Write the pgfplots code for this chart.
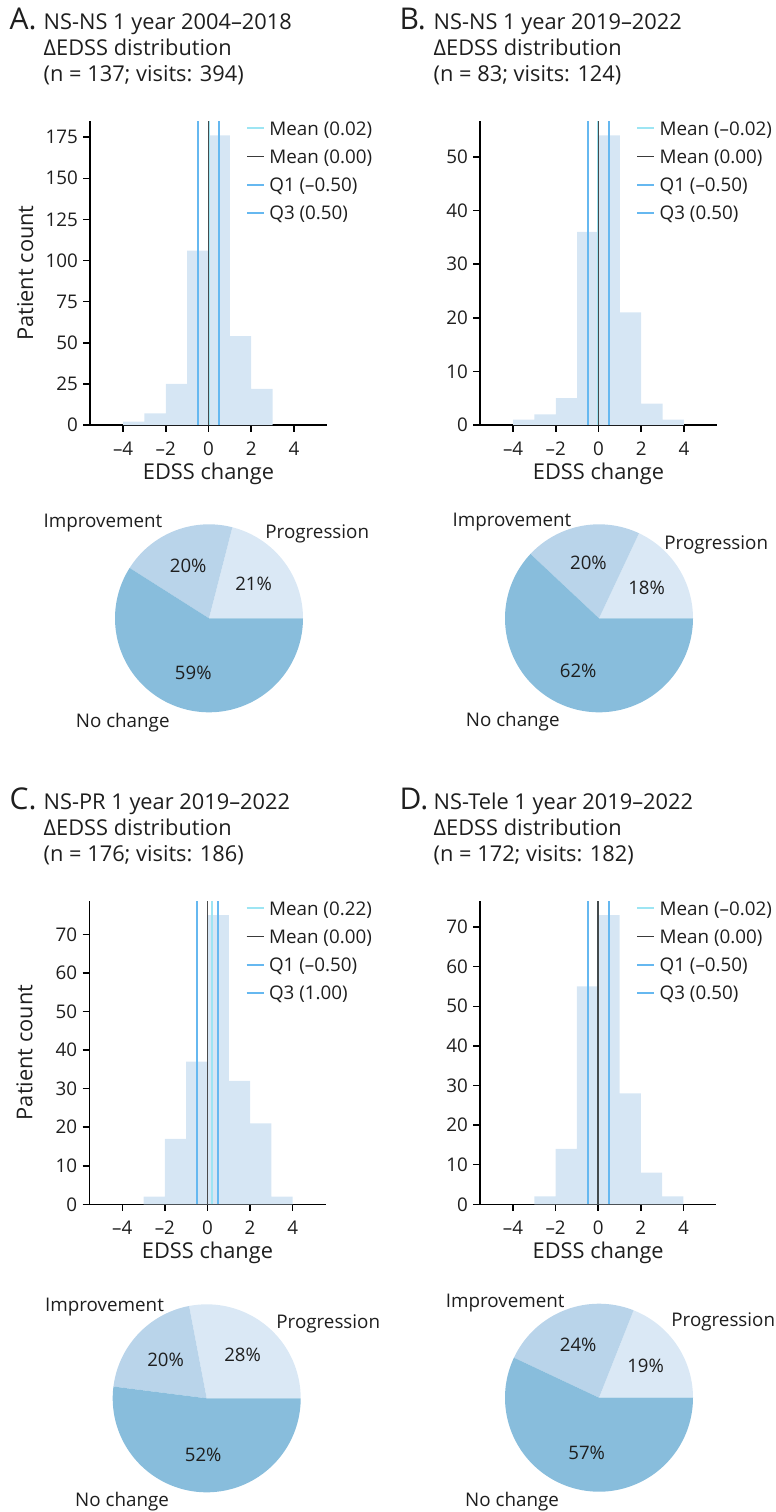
\documentclass[border=0pt]{standalone}
\usepackage{fontspec}
\setmainfont{Open Sans}
\usepackage{pgfplots}
\pgfplotsset{compat=1.18}
\definecolor{histc}{HTML}{D6E6F4}
\definecolor{meanc}{HTML}{9DE5F3}
\definecolor{qc}{HTML}{66B8F0}
\definecolor{blk}{HTML}{3A3A3A}
\definecolor{progc}{HTML}{DAE8F5}
\definecolor{imprc}{HTML}{B9D4EA}
\definecolor{noc}{HTML}{88BDDC}
\definecolor{txt}{HTML}{1E1E1E}
\newcommand{\tkf}{\fontsize{9.4}{11}\selectfont}
\newcommand{\xlab}[5]{\node[anchor=base, font=\tkf, text=txt, inner sep=0pt] at ({(#1+(#4+5.55)/11.1*#2)*0.5pt},{-(#3+30)*0.5pt}) {#5};}
\newcommand{\xlabs}[3]{\xlab{#1}{#2}{#3}{-4}{–4}\xlab{#1}{#2}{#3}{-2}{–2}\xlab{#1}{#2}{#3}{0}{0}\xlab{#1}{#2}{#3}{2}{2}\xlab{#1}{#2}{#3}{4}{4}}
% \ylab{axis left px}{axis bottom px}{axis height px}{ymax}{value}
\newcommand{\ylab}[5]{\node[anchor=east, font=\tkf, text=txt, inner sep=0pt] at ({(#1-11.7)*0.5pt},{-(#2-#5/#4*#3)*0.5pt}) {#5};}
% legend entry: #1 line-start x px, #2 row line y px, #3 style, #4 text
\newcommand{\lent}[4]{%
 \draw[#3] ({#1*0.5pt},{-(#2)*0.5pt}) -- ({(#1+17)*0.5pt},{-(#2)*0.5pt});
 \node[anchor=base west, font=\tkf, text=txt, inner sep=0pt] at ({(#1+22)*0.5pt},{-(#2+6.7)*0.5pt}) {#4};}
\newcommand{\legendblock}[5]{%
 \lent{#1}{#2}{meanc, line width=1pt}{#3}
 \lent{#1}{#2+28.3}{blk, line width=0.75pt}{Mean (0.00)}
 \lent{#1}{#2+56.6}{qc, line width=1pt}{#4}
 \lent{#1}{#2+84.9}{qc, line width=1pt}{#5}}
\pgfplotsset{
 hist/.style={
  scale only axis, width=118.5pt, height=152pt, anchor=south west,
  axis x line*=bottom, axis y line*=left,
  axis line style={line width=0.75pt, -, black},
  tick style={line width=0.75pt, black},
  tick align=outside, major tick length=3.3pt,
  xmin=-5.55, xmax=5.55, ymin=0,
  xtick={-4,-2,0,2,4}, xticklabels={}, yticklabels={},
  xlabel={EDSS change},
  xlabel style={at={(axis description cs:0.5,-0.1776)}, anchor=base, font=\fontsize{10.9}{13}\selectfont, text=txt},
  ylabel style={at={(axis description cs:-0.2405,0.5)}, anchor=base, font=\fontsize{10.9}{13}\selectfont, text=txt},
  clip=false,
 },
 pie/.style={
  scale only axis, width=94pt, height=94pt, anchor=center,
  xmin=-1, xmax=1, ymin=-1, ymax=1, hide axis, clip=false,
 },
}
\newcommand{\pieaxis}[4]{%
 \pgfmathsetmacro\aA{3.6*#3}%
 \pgfmathsetmacro\aB{3.6*(#3+#4)}%
 \pgfmathsetmacro\mA{\aA/2}%
 \pgfmathsetmacro\mB{(\aA+\aB)/2}%
 \pgfmathsetmacro\mC{(\aB+360)/2}%
 \pgfmathtruncatemacro\pC{100-#3-#4}%
 \begin{axis}[pie, at={(#1*0.5pt,-#2*0.5pt)}]
  \addplot[fill=progc, draw=none, domain=0:\aA, samples=60] ({cos(x)},{sin(x)}) -- (axis cs:0,0) -- cycle;
  \addplot[fill=imprc, draw=none, domain=\aA:\aB, samples=60] ({cos(x)},{sin(x)}) -- (axis cs:0,0) -- cycle;
  \addplot[fill=noc, draw=none, domain=\aB:360, samples=120] ({cos(x)},{sin(x)}) -- (axis cs:0,0) -- cycle;
 \end{axis}
 \node[font=\fontsize{9.3}{11}\selectfont, text=txt, inner sep=0pt] at ({#1*0.5pt+28.2pt*cos(\mA)},{-#2*0.5pt+28.2pt*sin(\mA)}) {#3\%};
 \node[font=\fontsize{9.3}{11}\selectfont, text=txt, inner sep=0pt] at ({#1*0.5pt+28.2pt*cos(\mB)},{-#2*0.5pt+28.2pt*sin(\mB)}) {#4\%};
 \node[font=\fontsize{9.3}{11}\selectfont, text=txt, inner sep=0pt] at ({#1*0.5pt+28.2pt*cos(\mC)},{-#2*0.5pt+28.2pt*sin(\mC)}) {\pC\%};}
\newcommand{\pielabels}[6]{%
 \node[anchor=base east, font=\fontsize{9.4}{11}\selectfont, text=txt, inner sep=0pt] at (#1*0.5pt,-#2*0.5pt-3.4pt) {Improvement};
 \node[anchor=base west, font=\fontsize{9.4}{11}\selectfont, text=txt, inner sep=0pt] at (#3*0.5pt,-#4*0.5pt-3.4pt) {Progression};
 \node[anchor=base east, font=\fontsize{9.4}{11}\selectfont, text=txt, inner sep=0pt] at (#5*0.5pt,-#6*0.5pt-3.4pt) {No change};}
\newcommand{\paneltitle}[6]{%
 \node[anchor=base west, font=\fontsize{15}{17}\selectfont, text=txt, inner sep=0pt] at (#1*0.5pt,-#2*0.5pt) {#3};
 \node[anchor=base west, font=\fontsize{10.9}{13}\selectfont, text=txt, inner sep=0pt] at (#1*0.5pt+17pt,-#2*0.5pt) {#4};
 \node[anchor=base west, font=\fontsize{10.9}{13}\selectfont, text=txt, inner sep=0pt] at (#1*0.5pt+17pt,-#2*0.5pt-13pt) {#5};
 \node[anchor=base west, font=\fontsize{10.9}{13}\selectfont, text=txt, inner sep=0pt] at (#1*0.5pt+17pt,-#2*0.5pt-26.2pt) {#6};}
\begin{document}
\begin{tikzpicture}
\useasboundingbox (0pt,0pt) rectangle (388pt,-756pt);
\paneltitle{9.3}{29.3}{A.}{NS-NS 1 year 2004–2018}{ΔEDSS distribution}{(n = 137; visits: 394)}
\paneltitle{399.3}{29.3}{B.}{NS-NS 1 year 2019–2022}{ΔEDSS distribution}{(n = 83; visits: 124)}
\paneltitle{9.3}{809.5}{C.}{NS-PR 1 year 2019–2022}{ΔEDSS distribution}{(n = 176; visits: 186)}
\paneltitle{399.3}{809.5}{D.}{NS-Tele 1 year 2019–2022}{ΔEDSS distribution}{(n = 172; visits: 182)}
% ---------- A histogram
\begin{axis}[hist, at={(90*0.5pt,-425*0.5pt)}, ymax=184.8, ytick={0,25,...,175}, ylabel={Patient count}]
 \addplot[ybar, bar width=1, bar shift=0pt, fill=histc, draw=none] coordinates {(-3.5,2) (-2.5,7) (-1.5,25) (-0.5,106) (0.5,176) (1.5,54) (2.5,22)};
 \addplot[meanc, line width=1pt] coordinates {(0.02,0) (0.02,184.8)};
 \addplot[blk, line width=0.75pt, opacity=0.9] coordinates {(0,0) (0,184.8)};
 \addplot[qc, line width=1pt] coordinates {(-0.5,0) (-0.5,184.8)};
 \addplot[qc, line width=1pt] coordinates {(0.5,0) (0.5,184.8)};
\end{axis}
\xlabs{90}{237}{425}
\ylab{90}{425}{304}{184.8}{0}\ylab{90}{425}{304}{184.8}{25}\ylab{90}{425}{304}{184.8}{50}\ylab{90}{425}{304}{184.8}{75}
\ylab{90}{425}{304}{184.8}{100}\ylab{90}{425}{304}{184.8}{125}\ylab{90}{425}{304}{184.8}{150}\ylab{90}{425}{304}{184.8}{175}
\legendblock{247}{128.3}{Mean (0.02)}{Q1 (–0.50)}{Q3 (0.50)}
% ---------- B histogram
\begin{axis}[hist, at={(480*0.5pt,-425*0.5pt)}, ymax=56.7, ytick={0,10,...,50}]
 \addplot[ybar, bar width=1, bar shift=0pt, fill=histc, draw=none] coordinates {(-3.5,1) (-2.5,2) (-1.5,5) (-0.5,36) (0.5,54) (1.5,21) (2.5,4) (3.5,1)};
 \addplot[meanc, line width=1pt] coordinates {(-0.02,0) (-0.02,56.7)};
 \addplot[blk, line width=0.75pt, opacity=0.9] coordinates {(0,0) (0,56.7)};
 \addplot[qc, line width=1pt] coordinates {(-0.5,0) (-0.5,56.7)};
 \addplot[qc, line width=1pt] coordinates {(0.5,0) (0.5,56.7)};
\end{axis}
\xlabs{480}{237}{425}
\ylab{480}{425}{304}{56.7}{0}\ylab{480}{425}{304}{56.7}{10}\ylab{480}{425}{304}{56.7}{20}
\ylab{480}{425}{304}{56.7}{30}\ylab{480}{425}{304}{56.7}{40}\ylab{480}{425}{304}{56.7}{50}
\legendblock{637.3}{128.3}{Mean (–0.02)}{Q1 (–0.50)}{Q3 (0.50)}
% ---------- C histogram
\begin{axis}[hist, at={(89.3*0.5pt,-1204.3*0.5pt)}, width=118.2pt, height=151.8pt, ymax=78.75, ytick={0,10,...,70}, ylabel={Patient count}]
 \addplot[ybar, bar width=1, bar shift=0pt, fill=histc, draw=none] coordinates {(-2.5,2) (-1.5,17) (-0.5,37) (0.5,75) (1.5,32) (2.5,21) (3.5,2)};
 \addplot[meanc, line width=1pt] coordinates {(0.22,0) (0.22,78.75)};
 \addplot[blk, line width=0.75pt, opacity=0.9] coordinates {(0,0) (0,78.75)};
 \addplot[qc, line width=1pt] coordinates {(-0.5,0) (-0.5,78.75)};
 \addplot[qc, line width=1pt] coordinates {(0.5,0) (0.5,78.75)};
\end{axis}
\xlabs{89.3}{236.4}{1204.3}
\ylab{89.3}{1204.3}{303.6}{78.75}{0}\ylab{89.3}{1204.3}{303.6}{78.75}{10}\ylab{89.3}{1204.3}{303.6}{78.75}{20}\ylab{89.3}{1204.3}{303.6}{78.75}{30}
\ylab{89.3}{1204.3}{303.6}{78.75}{40}\ylab{89.3}{1204.3}{303.6}{78.75}{50}\ylab{89.3}{1204.3}{303.6}{78.75}{60}\ylab{89.3}{1204.3}{303.6}{78.75}{70}
\legendblock{246.7}{908.3}{Mean (0.22)}{Q1 (–0.50)}{Q3 (1.00)}
% ---------- D histogram
\begin{axis}[hist, at={(480*0.5pt,-1204.3*0.5pt)}, width=118.2pt, height=151.8pt, ymax=76.65, ytick={0,10,...,70}]
 \addplot[ybar, bar width=1, bar shift=0pt, fill=histc, draw=none] coordinates {(-2.5,2) (-1.5,14) (-0.5,55) (0.5,73) (1.5,28) (2.5,8) (3.5,2)};
 \addplot[meanc, line width=1pt] coordinates {(-0.02,0) (-0.02,76.65)};
 \addplot[blk, line width=0.75pt, opacity=0.9] coordinates {(0,0) (0,76.65)};
 \addplot[qc, line width=1pt] coordinates {(-0.5,0) (-0.5,76.65)};
 \addplot[qc, line width=1pt] coordinates {(0.5,0) (0.5,76.65)};
\end{axis}
\xlabs{480}{236.4}{1204.3}
\ylab{480}{1204.3}{303.6}{76.65}{0}\ylab{480}{1204.3}{303.6}{76.65}{10}\ylab{480}{1204.3}{303.6}{76.65}{20}\ylab{480}{1204.3}{303.6}{76.65}{30}
\ylab{480}{1204.3}{303.6}{76.65}{40}\ylab{480}{1204.3}{303.6}{76.65}{50}\ylab{480}{1204.3}{303.6}{76.65}{60}\ylab{480}{1204.3}{303.6}{76.65}{70}
\legendblock{637.3}{908.3}{Mean (–0.02)}{Q1 (–0.50)}{Q3 (0.50)}
% ---------- pies
\pieaxis{209}{618.3}{21}{20}
\pielabels{162.7}{521}{265}{532}{170}{720.3}
\pieaxis{599}{618.3}{18}{20}
\pielabels{571.7}{519.3}{664}{542.7}{560}{720}
\pieaxis{206.7}{1398.3}{28}{20}
\pielabels{164.3}{1305}{276}{1321.7}{169.3}{1499.3}
\pieaxis{599}{1397.7}{19}{24}
\pielabels{565}{1300.7}{671}{1319.3}{559.3}{1499.3}
\end{tikzpicture}
\end{document}
